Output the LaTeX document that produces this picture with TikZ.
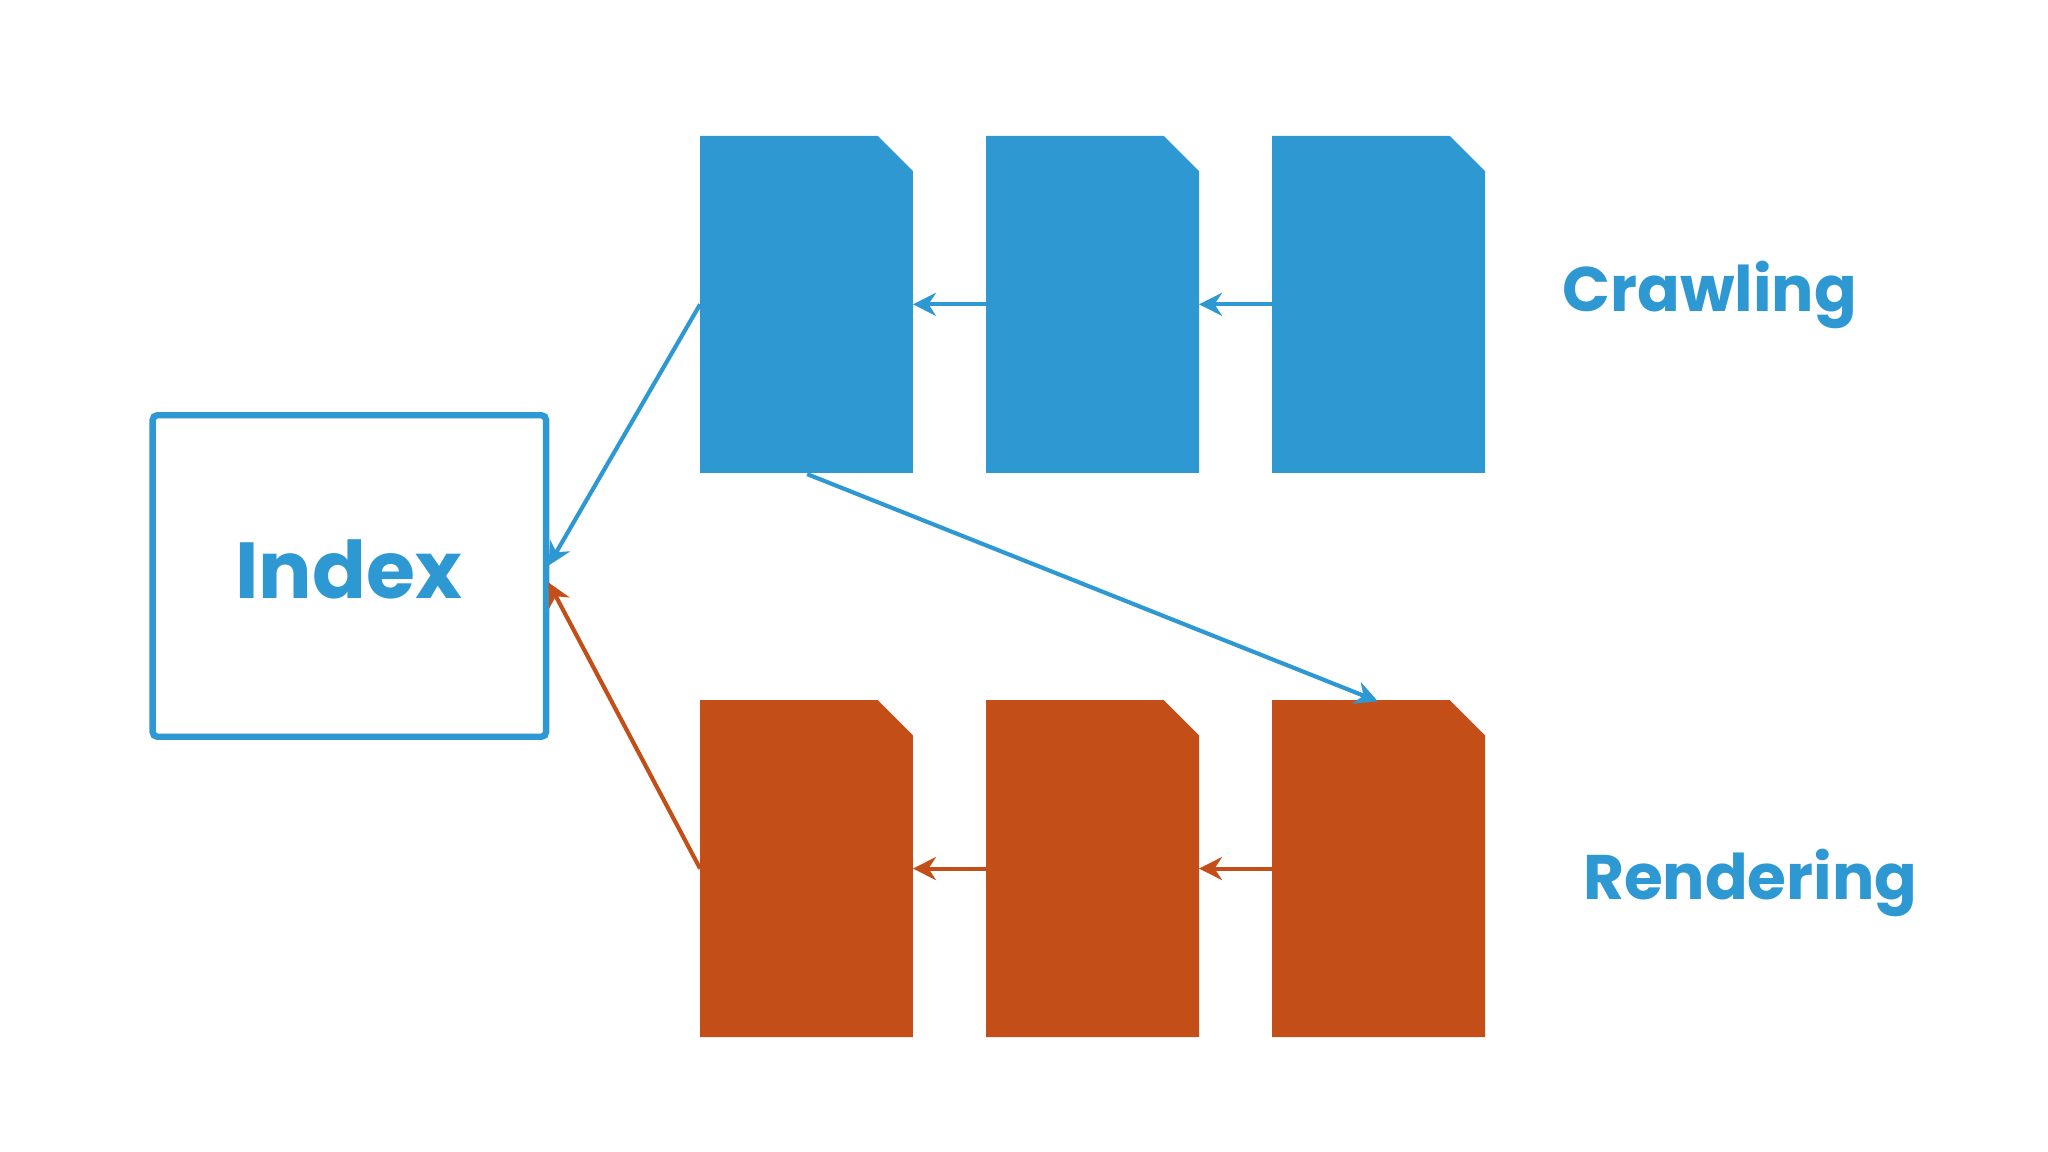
\documentclass[tikz,border=0pt]{standalone}
\usepackage{fontspec}
\setmainfont{Poppins}
\usetikzlibrary{arrows.meta}
\definecolor{cb}{HTML}{2E98D3}
\definecolor{co}{HTML}{C44E18}
\tikzset{x=0.01cm,y=-0.01cm,
 arr/.style={line width=0.9pt,-{Stealth[length=5pt,width=5pt]}},
 lbl/.style={text=cb,font=\bfseries\fontsize{13.7}{16}\selectfont}}
\newcommand{\doc}[4]{\fill[#4] (#1,#2) -- ++(136,0) -- ++(27,27) -- ++(0,231) -- ++(-163,0) -- cycle;
 \coordinate (#3w) at (#1,#2+129); \coordinate (#3e) at (#1+163,#2+129);
 \coordinate (#3s) at (#1+82,#2+259); \coordinate (#3n) at (#1+82,#2);}
\begin{document}
\begin{tikzpicture}
\useasboundingbox[fill=white] (0,0) rectangle (1568,882);
\node[draw=cb,line width=1.4pt,rounded corners=1pt,minimum width=3.01cm,minimum height=2.46cm] (idx) at (267.5,441) {};
\node[text=cb,font=\bfseries\fontsize{17.3}{20}\selectfont] (idxt) at (267,436) {Index};
\doc{536}{104}{b1}{cb}\doc{755}{104}{b2}{cb}\doc{974}{104}{b3}{cb}
\doc{536}{536}{o1}{co}\doc{755}{536}{o2}{co}\doc{974}{536}{o3}{co}
\draw[arr,cb] (b2w) -- (b1e);
\draw[arr,cb] (b3w) -- (b2e);
\draw[arr,co] (o2w) -- (o1e);
\draw[arr,co] (o3w) -- (o2e);
\coordinate (ib) at (420,433); \coordinate (io) at (420,446);
\draw[arr,cb] (b1w) -- (ib);
\draw[arr,co] (o1w) -- (io);
\draw[arr,cb] (618,363) -- (1055,537);
\node[lbl] (cr) at (1309,226) {Crawling};
\node[lbl] (re) at (1340,676) {Rendering};
\end{tikzpicture}
\end{document}
